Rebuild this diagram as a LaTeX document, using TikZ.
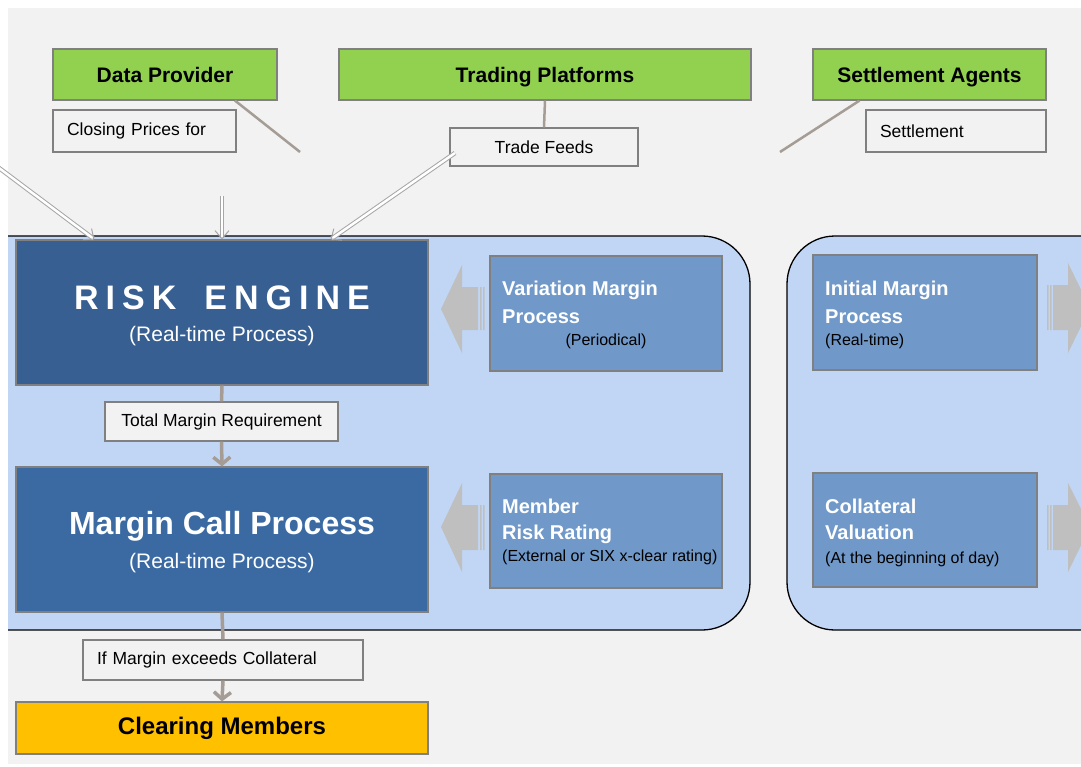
\documentclass[tikz,border=0pt]{standalone}
\usepackage{fontspec}
\setmainfont{Liberation Sans}
\usetikzlibrary{arrows.meta}
\definecolor{bgc}{HTML}{F2F2F2}
\definecolor{greenc}{HTML}{92D050}
\definecolor{borderc}{HTML}{808080}
\definecolor{panec}{HTML}{C1D6F5}
\definecolor{rec}{HTML}{375F92}
\definecolor{mcc}{HTML}{3B6AA3}
\definecolor{lightc}{HTML}{7098C8}
\definecolor{connc}{HTML}{A59D95}
\definecolor{bigarrc}{HTML}{BFBFBF}
\definecolor{orangec}{HTML}{FFC000}
\newcommand{\fsz}[1]{\fontsize{#1}{#1}\selectfont}
\begin{document}
\begin{tikzpicture}[x=1pt,y=-1pt,
  greenbox/.style={draw=borderc, fill=greenc, line width=1.2pt, minimum height=51pt, inner sep=0pt, text depth=0pt, font=\fsz{21}\bfseries},
  labelbox/.style={draw=borderc, fill=bgc, line width=1.2pt, inner sep=0pt, font=\fsz{17.5}},
  bigbox/.style={draw=borderc, line width=1.2pt, inner sep=0pt, minimum width=412pt, minimum height=145pt},
  lightbox/.style={draw=borderc, fill=lightc, line width=1.2pt, inner sep=0pt},
  wtitle/.style={inner sep=0pt, anchor=west, text=white, font=\fsz{20}\bfseries},
  bnote/.style={inner sep=0pt, anchor=west, text=black, font=\fsz{16}},
  conn/.style={draw=connc, line width=3.5pt},
  arr/.style={conn, -{Straight Barb[length=7pt,width=17pt,line width=3.5pt]}},
  hollow/.style={draw=black!35, line width=1pt, double=white, double distance=2.5pt, -{Straight Barb[length=8pt,width=14pt]}},
  bigarr/.style={fill=bigarrc},
  pane/.style={fill=panec, draw=black, line width=1.3pt, rounded corners=48pt}]
\useasboundingbox (0,0) rectangle (1081,767);
\clip (0,0) rectangle (1081,767);
\fill[white] (0,0) rectangle (1081,767);
\fill[bgc] (8,8) rectangle (1081,764);

% panes
\path[pane] (8,236) -- (750,236) -- (750,630) -- (8,630);
\fill[panec] (8,236.7) rectangle (20,629.3);
\path[pane] (1085,236) -- (787,236) -- (787,630) -- (1085,630);

% top boxes
\node[greenbox, minimum width=224pt] (dp) at (165,74.5) {Data Provider};
\node[greenbox, minimum width=412pt] (tp) at (545,74.5) {Trading Platforms};
\node[greenbox, minimum width=233pt] (sa) at (929.5,74.5) {Settlement Agents};

\node[labelbox, minimum width=183pt, minimum height=42pt, text width=155pt, align=left] (cp) at (144.5,131) {Closing Prices for};
\node[labelbox, minimum width=188pt, minimum height=38pt] (tf) at (544,147) {Trade Feeds};
\node[labelbox, minimum width=180pt, minimum height=42pt, text width=152pt, align=left] (st) at (956,131) {Settlement};

\coordinate (dpend) at (300,152);
\coordinate (saend) at (780,152);
\draw[conn, line width=2.5pt] ([xshift=70pt]dp.south) -- (dpend);
\draw[conn, line width=2.5pt] (tp.south) -- (tf.north);
\draw[conn, line width=2.5pt] ([xshift=-70pt]sa.south) -- (saend);

% main blocks
\node[bigbox, fill=rec] (re) at (222,312.5) {};
\node[inner sep=0pt, text=white, font=\fsz{34}\bfseries] (retitle) at (222,298)
  {R\hspace{7pt}I\hspace{7pt}S\hspace{7pt}K\hspace{28pt}E\hspace{7pt}N\hspace{7pt}G\hspace{7pt}I\hspace{7pt}N\hspace{7pt}E};
\node[inner sep=0pt, text=white, font=\fsz{21}] (resub) at (222,336) {(Real-time Process)};

\node[labelbox, minimum width=233pt, minimum height=39pt] (tm) at (221.5,421.5) {Total Margin Requirement};

\node[bigbox, fill=mcc] (mc) at (222,539.5) {};
\node[inner sep=0pt, text=white, font=\fsz{32}\bfseries] (mctitle) at (222,526) {Margin Call Process};
\node[inner sep=0pt, text=white, font=\fsz{21}] (mcsub) at (222,563) {(Real-time Process)};

\node[labelbox, minimum width=280pt, minimum height=40pt, text width=252pt, align=left] (im) at (223,660) {If Margin exceeds Collateral};
\node[draw=borderc, fill=orangec, line width=1.2pt, minimum width=412pt, minimum height=52pt, inner sep=0pt, font=\fsz{24}\bfseries] (cm) at (222,728) {Clearing Members};

\draw[conn] (re.south) -- (tm.north);
\draw[arr] (tm.south) -- (mc.north);
\draw[conn] (mc.south) -- (im.north);
\draw[arr] (im.south) -- (cm.north);

% hollow arrows into risk engine
\coordinate (h1) at (-5,165);
\coordinate (h2) at (222,196);
\coordinate (h3) at (455,153);
\draw[hollow] (h1) -- ([xshift=79pt]re.north west);
\draw[hollow] (h2) -- (re.north);
\draw[hollow] (h3) -- ([xshift=-98pt]re.north east);

% light boxes, left pane
\node[lightbox, minimum width=232pt, minimum height=115pt] (vm) at (606,313.5) {};
\node[wtitle] (vm1) at (502,290) {Variation Margin};
\node[wtitle] (vm2) at (502,317) {Process};
\node[bnote, anchor=center] (vm3) at (606,341) {(Periodical)};

\node[lightbox, minimum width=232pt, minimum height=114pt] (mr) at (606,531) {};
\node[wtitle] (mr1) at (502,506) {Member};
\node[wtitle] (mr2) at (502,534) {Risk Rating};
\node[bnote] (mr3) at (502,557) {(External or SIX x-clear rating)};

% light boxes, right pane
\node[lightbox, minimum width=224pt, minimum height=115pt] (imp) at (925,312.5) {};
\node[wtitle] (imp1) at (825,290) {Initial Margin};
\node[wtitle] (imp2) at (825,317) {Process};
\node[bnote] (imp3) at (825,341) {(Real-time)};

\node[lightbox, minimum width=224pt, minimum height=114pt] (cv) at (925,530) {};
\node[wtitle] (cv1) at (825,506) {Collateral};
\node[wtitle] (cv2) at (825,532) {Valuation};
\node[bnote] (cv3) at (825,559) {(At the beginning of day)};

% big grey arrows
\path[bigarr] (441,309) -- (462,265) -- (462,287) -- (478,287) -- (478,330) -- (462,330) -- (462,353) -- cycle;
\path[bigarr] (480,287) rectangle (481.5,330) (483,287) rectangle (484.5,330);
\path[bigarr] (441,527) -- (462,483) -- (462,505) -- (478,505) -- (478,550) -- (462,550) -- (462,572) -- cycle;
\path[bigarr] (480,505) rectangle (481.5,550) (483,505) rectangle (484.5,550);

\path[bigarr] (1053,285) -- (1068,285) -- (1068,263) -- (1090,308) -- (1068,353) -- (1068,330) -- (1053,330) -- cycle;
\path[bigarr] (1047,285) rectangle (1048.5,330) (1050,285) rectangle (1051.5,330);
\path[bigarr] (1053,505) -- (1068,505) -- (1068,483) -- (1090,527) -- (1068,572) -- (1068,550) -- (1053,550) -- cycle;
\path[bigarr] (1047,505) rectangle (1048.5,550) (1050,505) rectangle (1051.5,550);
\end{tikzpicture}
\end{document}
